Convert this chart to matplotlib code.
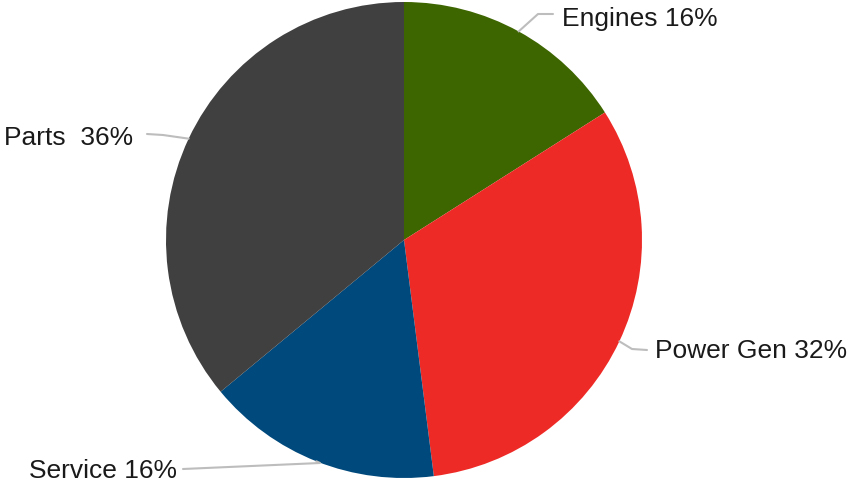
import numpy as np
import matplotlib
matplotlib.use('Agg')
import matplotlib.pyplot as plt

plt.rcParams['font.family'] = ['Liberation Sans', 'DejaVu Sans']

# revenue split by segment (%)
segments = ['Engines', 'Power Gen', 'Service', 'Parts']
shares = [16, 32, 16, 36]
label_fmt = ['{} {}%', '{} {}%', '{} {}%', '{}  {}%']
colors = ['#3d6500', '#ee2a26', '#00497c', '#404040']

W, H = 848, 482
CX, CY, R = 404, 242, 238

# leader elbow / end points and text anchors (figure pixel space, y up)
elbows = [(538, 468), (632, 133), (320, 19), (163, 347)]
ends = [(553, 468), (647, 132), (183, 13), (147, 348)]
text_pos = [(562, 456, 'left'), (655, 124, 'left'), (177, 4, 'right'), (133, 337, 'right')]

fig = plt.figure(figsize=(W / 100, H / 100), dpi=100)
ax = fig.add_axes([0, 0, 1, 1])
ax.set_xlim(0, W)
ax.set_ylim(0, H)
ax.axis('off')

ax.pie(shares, colors=colors, startangle=90, counterclock=False,
       center=(CX, CY), radius=R, frame=True,
       wedgeprops=dict(linewidth=0, antialiased=True))
ax.set_xlim(0, W)
ax.set_ylim(0, H)
ax.axis('off')

# leader lines start at each wedge's mid-angle on the rim
cum = np.cumsum([0] + shares)
total = float(sum(shares))
for i, name in enumerate(segments):
    mid = (cum[i] + cum[i + 1]) / 2 / total * 2 * np.pi
    x0 = CX + R * np.sin(mid)
    y0 = CY + R * np.cos(mid)
    ex, ey = elbows[i]
    fx, fy = ends[i]
    ax.plot([x0, ex, fx], [y0, ey, fy], color='#bdbdbd', lw=1.5,
            solid_capstyle='round', zorder=1)
    tx, ty, ha = text_pos[i]
    ax.text(tx, ty, label_fmt[i].format(name, shares[i]), fontsize=19,
            color='#1a1a1a', ha=ha, va='baseline')

fig.savefig('out.png', dpi=100)
